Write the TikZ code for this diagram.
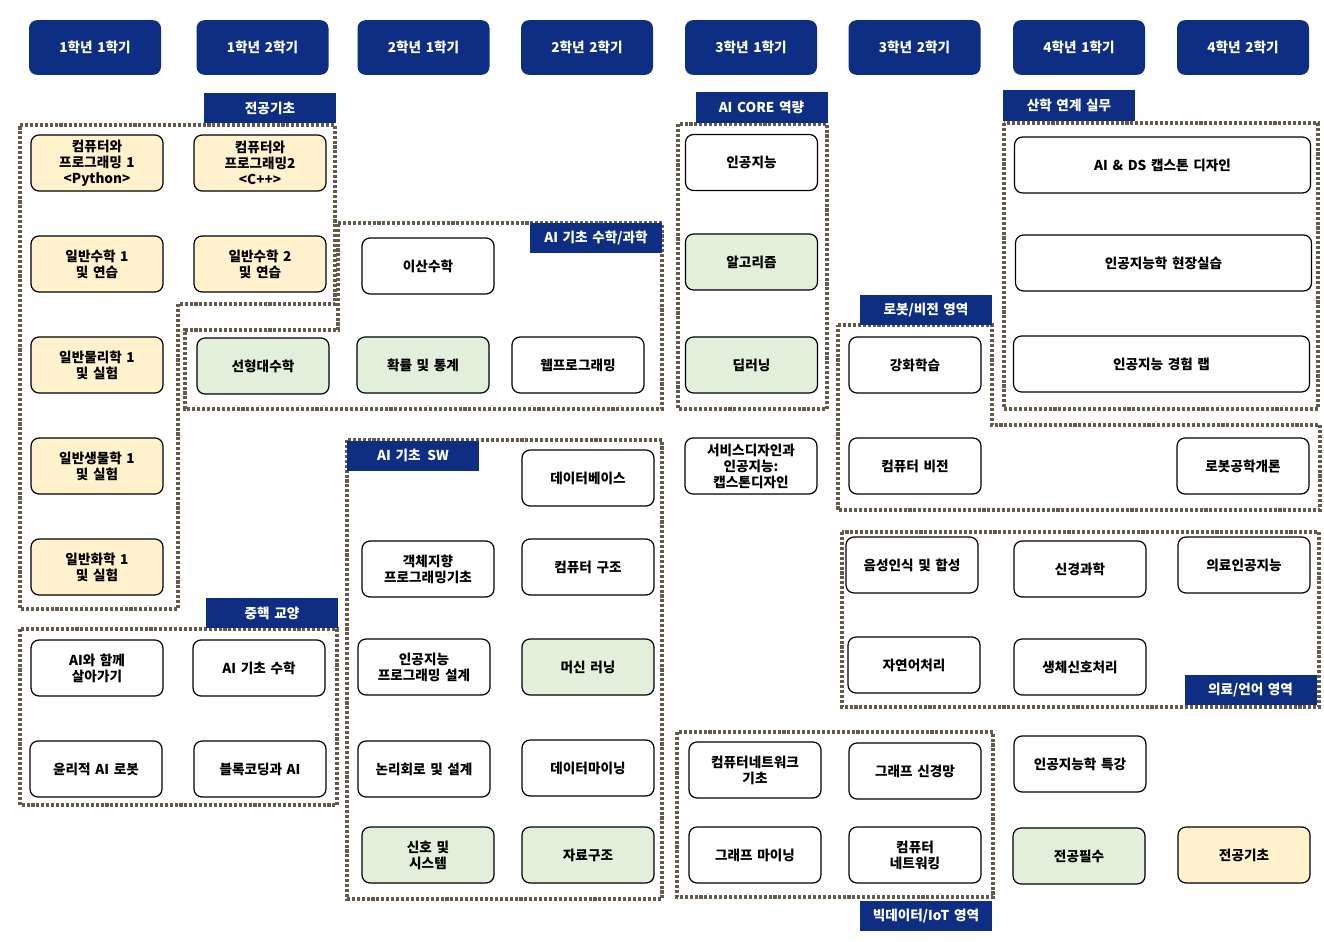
\documentclass[tikz,border=0pt]{standalone}
\usepackage{fontspec}
\setmainfont{Noto Sans CJK KR}[WordSpace=1.5]
\definecolor{hdnavy}{RGB}{14,46,132}
\definecolor{baseyel}{RGB}{255,242,204}
\definecolor{reqgrn}{RGB}{226,239,218}
\definecolor{dotbrown}{RGB}{100,90,74}
\tikzset{
  semhead/.style={fill=hdnavy, rounded corners=6pt, minimum width=99pt, minimum height=41pt, text=white, font=\fontsize{10.2}{12}\selectfont\bfseries},
  course/.style={draw=black, line width=0.9pt, rounded corners=6pt, minimum width=99pt, minimum height=42pt, align=center, font=\fontsize{10.2}{12}\selectfont\bfseries},
  widecourse/.style={course, minimum width=222pt},
  basebox/.style={course, fill=baseyel},
  reqbox/.style={course, fill=reqgrn},
  areatag/.style={fill=hdnavy, text=white, minimum width=99pt, minimum height=22.5pt, inner sep=0pt, font=\fontsize{10.2}{12}\selectfont\bfseries},
  arealine/.style={draw=dotbrown, line width=2.6pt, dash pattern=on 2.3pt off 1.4pt}
}
\begin{document}
\begin{tikzpicture}[x=0.75pt,y=0.75pt,yscale=-1,xscale=1]
\useasboundingbox (0,0) rectangle (1324,942);
% areas
\draw [arealine] (20,125) -- (335,125) -- (335,304) -- (178,304) -- (178,609) -- (20,609) -- cycle;
\draw [arealine] (338,223) -- (662,223) -- (662,409) -- (185,409) -- (185,330) -- (338,330) -- cycle;
\draw [arealine] (678,124) rectangle (827,409);
\draw [arealine] (838,325) -- (992,325) -- (992,425) -- (1320,425) -- (1320,510) -- (838,510) -- cycle;
\draw [arealine] (1004,123) rectangle (1318,409);
\draw [arealine] (842,532) rectangle (1319,707);
\draw [arealine] (677,732) rectangle (993,897);
\draw [arealine] (347,440) rectangle (662,899);
\draw [arealine] (20,629) rectangle (337,805);

% area tags
\node (tagbase) at (270,108) [areatag] {전공기초};
\node (tagcore) at (761.5,107.5) [areatag] {AI CORE 역량};
\node (tagind) at (1069,105.5) [areatag] {산학 연계 실무};
\node (tagmath) at (596,238) [areatag] {AI 기초 수학/과학};
\node (tagrobot) at (926,309.5) [areatag] {로봇/비전 영역};
\node (tagsw) at (413,455.5) [areatag] {AI 기초\enspace SW};
\node (tagcore2) at (272,613) [areatag] {중핵 교양};
\node (tagmed) at (1250.5,690) [areatag] {의료/언어 영역};
\node (tagbig) at (926,915.5) [areatag] {빅데이터/IoT 영역};

% semesters
\node (s11) at (95,47.5) [semhead] {1학년 1학기};
\node (s12) at (262.5,47.5) [semhead] {1학년 2학기};
\node (s21) at (423.5,47.5) [semhead] {2학년 1학기};
\node (s22) at (587,47.5) [semhead] {2학년 2학기};
\node (s31) at (751,47.5) [semhead] {3학년 1학기};
\node (s32) at (914.5,47.5) [semhead] {3학년 2학기};
\node (s41) at (1079,47.5) [semhead] {4학년 1학기};
\node (s42) at (1243,47.5) [semhead] {4학년 2학기};

% 1-1
\node (cpone) at (97,163) [basebox] {컴퓨터와\\프로그래밍 1\\<Python>};
\node (mathone) at (97,264) [basebox] {일반수학 1\\및 연습};
\node (phys) at (97,365) [basebox] {일반물리학 1\\및 실험};
\node (bio) at (97,466) [basebox] {일반생물학 1\\및 실험};
\node (chem) at (97,567) [basebox] {일반화학 1\\및 실험};
\node (withai) at (97,668) [course] {AI와 함께\\살아가기};
\node (ethic) at (96,769) [course] {윤리적 AI 로봇};
% 1-2
\node (cptwo) at (260,163) [basebox] {컴퓨터와\\프로그래밍2\\<C++>};
\node (mathtwo) at (260,264) [basebox] {일반수학 2\\및 연습};
\node (linalg) at (263,366) [reqbox] {선형대수학};
\node (aimath) at (259,668) [course] {AI 기초 수학};
\node (block) at (260,769) [course] {블록코딩과 AI};
% 2-1
\node (discrete) at (428,266) [course] {이산수학};
\node (prob) at (423,365) [reqbox] {확률 및 통계};
\node (oop) at (428,569) [course] {객체지향\\프로그래밍기초};
\node (aiprog) at (424,667) [course] {인공지능\\프로그래밍 설계};
\node (logic) at (424,769) [course] {논리회로 및 설계};
\node (signal) at (428,855) [reqbox] {신호 및\\시스템};
% 2-2
\node (web) at (578,365) [course] {웹프로그래밍};
\node (db) at (588,478) [course] {데이터베이스};
\node (arch) at (588,567) [course] {컴퓨터 구조};
\node (ml) at (588,667) [reqbox] {머신 러닝};
\node (dm) at (588,768) [course] {데이터마이닝};
\node (ds) at (588,855) [reqbox] {자료구조};
% 3-1
\node (ai) at (751.5,162.5) [course] {인공지능};
\node (algo) at (751.5,262) [reqbox] {알고리즘};
\node (dl) at (751.5,365) [reqbox] {딥러닝};
\node (svc) at (751,466) [course] {서비스디자인과\\인공지능:\\캡스톤디자인};
\node (netbase) at (755,770) [course] {컴퓨터네트워크\\기초};
\node (gmine) at (755,855) [course] {그래프 마이닝};
% 3-2
\node (rl) at (915,365) [course] {강화학습};
\node (cv) at (915,466) [course] {컴퓨터 비전};
\node (speech) at (912,565) [course] {음성인식 및 합성};
\node (nlp) at (914,665) [course] {자연어처리};
\node (gnn) at (915,771) [course] {그래프 신경망};
\node (netw) at (915,855) [course] {컴퓨터\\네트워킹};
% 4-1
\node (capstone) at (1162.5,165) [widecourse] {AI \& DS 캡스톤 디자인};
\node (intern) at (1163.5,263) [widecourse] {인공지능학 현장실습};
\node (lab) at (1161.5,364) [widecourse] {인공지능 경험 랩};
\node (neuro) at (1080,569) [course] {신경과학};
\node (biosig) at (1080,667) [course] {생체신호처리};
\node (special) at (1080,764) [course] {인공지능학 특강};
\node (legreq) at (1079,856) [reqbox] {전공필수};
% 4-2
\node (robot) at (1243,466) [course] {로봇공학개론};
\node (medai) at (1244,565) [course] {의료인공지능};
\node (legbase) at (1244,855) [basebox] {전공기초};
\end{tikzpicture}
\end{document}
